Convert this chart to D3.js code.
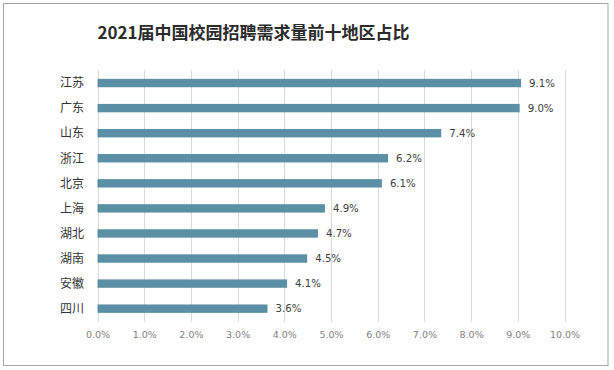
<!DOCTYPE html>
<html><head><meta charset="utf-8">
<script src="https://cdn.jsdelivr.net/npm/d3@7"></script>
<style>body{margin:0;background:#fff}svg{display:block}</style>
</head><body>
<script>
const categories = ["江苏","广东","山东","浙江","北京","上海","湖北","湖南","安徽","四川"];
const values = [9.07, 9.04, 7.36, 6.22, 6.09, 4.87, 4.72, 4.49, 4.06, 3.64];
const ticks = [0,1,2,3,4,5,6,7,8,9,10];
const title = "2021届中国校园招聘需求量前十地区占比";

const W = 614, H = 370;
const svg = d3.select("body").append("svg").attr("width", W).attr("height", H);
svg.append("rect").attr("x", 3.5).attr("y", 3.5).attr("width", 604.5).attr("height", 362)
  .attr("fill", "#fff").attr("stroke", "#a6a6a6").attr("stroke-width", 1);

svg.append("text").attr("x", 253.5).attr("y", 39).attr("text-anchor", "middle")
  .attr("font-family", "Noto Sans CJK SC").attr("font-weight", "bold").attr("font-size", 17)
  .attr("fill", "#2b2b2b").text(title);

const x = d3.scaleLinear().domain([0, 10]).range([97.5, 564.5]);
const y = d3.scaleBand().domain(categories).range([70.5, 321.2]).paddingInner(0.665).paddingOuter(0.3325);

const grid = svg.append("g");
grid.selectAll("line").data(ticks).join("line")
  .attr("x1", d => Math.round(x(d)) + 0.5).attr("x2", d => Math.round(x(d)) + 0.5)
  .attr("y1", 70).attr("y2", 322).attr("stroke", "#d9d9d9").attr("stroke-width", 1);

const xAxis = svg.append("g").attr("transform", "translate(0,322)")
  .call(d3.axisBottom(x).tickValues(ticks).tickSize(0).tickPadding(9).tickFormat(d => d.toFixed(1) + "%"));
xAxis.select(".domain").remove();
xAxis.selectAll("text").attr("font-family", "DejaVu Sans, sans-serif").attr("font-size", 9.5).attr("fill", "#7f7f7f");

svg.append("g").selectAll("rect").data(values).join("rect")
  .attr("x", x(0)).attr("y", (d, i) => y(categories[i]))
  .attr("width", d => x(d) - x(0)).attr("height", y.bandwidth())
  .attr("fill", "#5b8fa6");

svg.append("g").selectAll("text").data(values).join("text")
  .attr("x", d => x(d) + 8).attr("y", (d, i) => y(categories[i]) + y.bandwidth() / 2)
  .attr("dy", "0.36em").attr("font-family", "DejaVu Sans, sans-serif").attr("font-size", 10.2)
  .attr("fill", "#404040").text(d => d.toFixed(1) + "%");

svg.append("g").selectAll("text").data(categories).join("text")
  .attr("x", 84).attr("y", d => y(d) + y.bandwidth() / 2).attr("dy", "0.36em")
  .attr("text-anchor", "end").attr("font-family", "Noto Sans CJK SC").attr("font-size", 12)
  .attr("fill", "#333").text(d => d);
</script>
</body></html>
